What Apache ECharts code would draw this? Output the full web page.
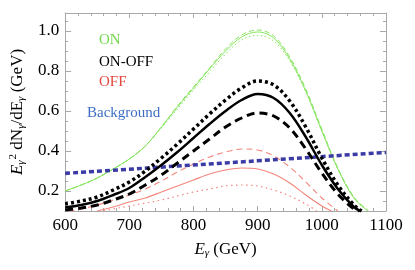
<!DOCTYPE html>
<html><head><meta charset="utf-8">
<script src="https://cdn.jsdelivr.net/npm/echarts@6/dist/echarts.min.js"></script>
<style>html,body{margin:0;padding:0;background:#fff}#c{width:415px;height:270px}</style>
</head><body><div id="c"></div>
<script>
// E (GeV), E^2 dN/dE (GeV)
var onSolid = [[600,0.20],[625,0.23],[650,0.265],[675,0.31],[700,0.36],[725,0.425],[750,0.52],[775,0.62],[800,0.715],[825,0.81],[850,0.90],[875,0.97],[900,0.995],[925,0.965],[950,0.86],[975,0.70],[1000,0.50],[1025,0.31],[1050,0.165],[1072,0.10]];
var onDashed = [[600,0.20],[625,0.23],[650,0.265],[675,0.31],[700,0.36],[725,0.425],[750,0.52],[775,0.625],[800,0.72],[825,0.815],[850,0.91],[875,0.98],[900,1.005],[925,0.975],[950,0.87],[975,0.71],[1000,0.51],[1025,0.315],[1050,0.17],[1073,0.10]];
var onDotted = [[600,0.20],[625,0.23],[650,0.265],[675,0.31],[700,0.36],[725,0.425],[750,0.515],[775,0.61],[800,0.705],[825,0.795],[850,0.885],[875,0.955],[900,0.978],[925,0.95],[950,0.85],[975,0.695],[1000,0.50],[1025,0.31],[1050,0.165],[1072,0.10]];
var onoffSolid = [[600,0.118],[625,0.13],[650,0.15],[675,0.18],[700,0.215],[725,0.27],[750,0.33],[775,0.395],[800,0.465],[825,0.535],[850,0.60],[875,0.655],[900,0.685],[925,0.665],[950,0.59],[975,0.47],[1000,0.33],[1025,0.21],[1050,0.12],[1060,0.10]];
var onoffDotted = [[600,0.135],[625,0.15],[650,0.17],[675,0.205],[700,0.245],[725,0.30],[750,0.365],[775,0.435],[800,0.51],[825,0.585],[850,0.655],[875,0.715],[900,0.75],[925,0.73],[950,0.65],[975,0.52],[1000,0.365],[1025,0.23],[1050,0.13],[1062,0.10]];
var onoffDashed = [[600,0.105],[625,0.115],[650,0.13],[675,0.155],[700,0.185],[725,0.23],[750,0.28],[775,0.34],[800,0.40],[825,0.46],[850,0.52],[875,0.565],[900,0.59],[925,0.575],[950,0.515],[975,0.41],[1000,0.29],[1025,0.185],[1050,0.11],[1058,0.10]];
var offSolid = [[650,0.10],[675,0.12],[700,0.145],[725,0.165],[750,0.195],[775,0.225],[800,0.255],[825,0.285],[850,0.305],[875,0.315],[900,0.31],[925,0.285],[950,0.24],[975,0.18],[1000,0.125],[1015,0.10]];
var offDashed = [[605,0.10],[625,0.11],[650,0.13],[675,0.155],[700,0.18],[725,0.21],[750,0.25],[775,0.295],[800,0.335],[825,0.37],[850,0.395],[875,0.41],[900,0.405],[925,0.375],[950,0.32],[975,0.245],[1000,0.165],[1025,0.10]];
var offDotted = [[660,0.10],[675,0.11],[700,0.125],[725,0.14],[750,0.155],[775,0.175],[800,0.195],[825,0.21],[850,0.225],[875,0.23],[900,0.225],[925,0.205],[950,0.175],[975,0.135],[992,0.10]];
var background = [[600,0.288],[1100,0.393]];
var xTicks = [600,700,800,900,1000,1100];
var yTicks = [0.2,0.4,0.6,0.8,1.0];
var legendTexts = ['ON','ON-OFF','OFF','Background'];

var SERIF = "'Liberation Serif','DejaVu Serif',serif";
var GREEN = '#86e45e', BLACK = '#000', RED = '#f2857c', BLUE = '#3b3ba6';
var chart = echarts.init(document.getElementById('c'));
function ln(data, color, width, type, z) {
  return {type:'line', data:data, xAxisIndex:0, yAxisIndex:0, smooth:0.35, symbol:'none', clip:true, z:z||2,
    lineStyle:{color:color, width:width, type:type, cap:'butt'}};
}
var frame = '#a8a8a8';
var xBase = {type:'value', min:600, max:1100, interval:100,
  axisLine:{show:true, lineStyle:{color:frame, width:1}},
  axisTick:{show:true, inside:true, length:5, lineStyle:{color:frame}},
  minorTick:{show:true, splitNumber:5, length:3, lineStyle:{color:frame}},
  splitLine:{show:false}};
var yMinor = {type:'value', min:0.1, max:1.09, interval:0.05,
  axisLine:{show:true, lineStyle:{color:frame, width:1}},
  axisTick:{show:true, inside:true, length:3, lineStyle:{color:frame}},
  axisLabel:{show:false}, splitLine:{show:false}};
var yMajor = {type:'value', min:0.1, max:1.09,
  axisLine:{show:false},
  axisTick:{show:true, inside:true, length:6, customValues:yTicks, lineStyle:{color:frame}},
  axisLabel:{show:false}, splitLine:{show:false}};
var richName = {
  i:{fontFamily:SERIF, fontStyle:'italic', fontSize:17, color:'#000'},
  n:{fontFamily:SERIF, fontSize:17, color:'#000'},
  s:{fontFamily:SERIF, fontStyle:'italic', fontSize:11, color:'#000', padding:[7,0,0,0]},
  p:{fontFamily:SERIF, fontSize:11, color:'#000', padding:[0,0,9,1]}
};
chart.setOption({
  animation:false,
  grid:{left:64, right:29, top:13, bottom:59},
  xAxis:[
    Object.assign({}, xBase, {position:'bottom',
      axisLabel:{show:true, color:'#000', fontFamily:SERIF, fontSize:17, margin:6,
        customValues:xTicks, formatter:function(v){return String(v);}},
      name:'{i|E}{s|γ}{n| (GeV)}', nameLocation:'middle', nameGap:30,
      nameTextStyle:{rich:richName}}),
    Object.assign({}, xBase, {position:'top', axisLabel:{show:false}})
  ],
  yAxis:[
    Object.assign({}, yMinor, {position:'left',
      axisLabel:{show:true, color:'#000', fontFamily:SERIF, fontSize:17, margin:6,
        customValues:yTicks, formatter:function(v){return v.toFixed(1);}},
      name:'{i|E}{s|γ}{p|2}{n| dN}{s|γ}{n|/dE}{s|γ}{n| (GeV)}', nameLocation:'middle', nameRotate:90, nameGap:36,
      nameTextStyle:{rich:richName}}),
    Object.assign({}, yMinor, {position:'right'}),
    Object.assign({}, yMajor, {position:'left'}),
    Object.assign({}, yMajor, {position:'right'})
  ],
  graphic:[
    {type:'text', left:99, top:33, style:{text:legendTexts[0], fill:'#74d84e', font:'15px '+SERIF}},
    {type:'text', left:99, top:55, style:{text:legendTexts[1], fill:'#000', font:'15px '+SERIF}},
    {type:'text', left:99, top:75, style:{text:legendTexts[2], fill:'#e4473e', font:'15px '+SERIF}},
    {type:'text', left:87, top:106, style:{text:legendTexts[3], fill:'#3e6ec4', font:'15px '+SERIF}}
  ],
  series:[
    ln(onDotted, GREEN, 1, [1.5,2.5]),
    ln(onDashed, GREEN, 1, [5,3]),
    ln(onSolid, GREEN, 1, 'solid'),
    ln(offDotted, RED, 1.2, [1.5,3.5]),
    ln(offDashed, RED, 1.1, [6,4]),
    ln(offSolid, RED, 1.1, 'solid'),
    ln(background, BLUE, 3.5, [5,3], 3),
    ln(onoffDashed, BLACK, 3, [8,5], 4),
    ln(onoffSolid, BLACK, 2.5, 'solid', 4),
    ln(onoffDotted, BLACK, 3.5, [3,3], 4)
  ]
});
</script></body></html>
